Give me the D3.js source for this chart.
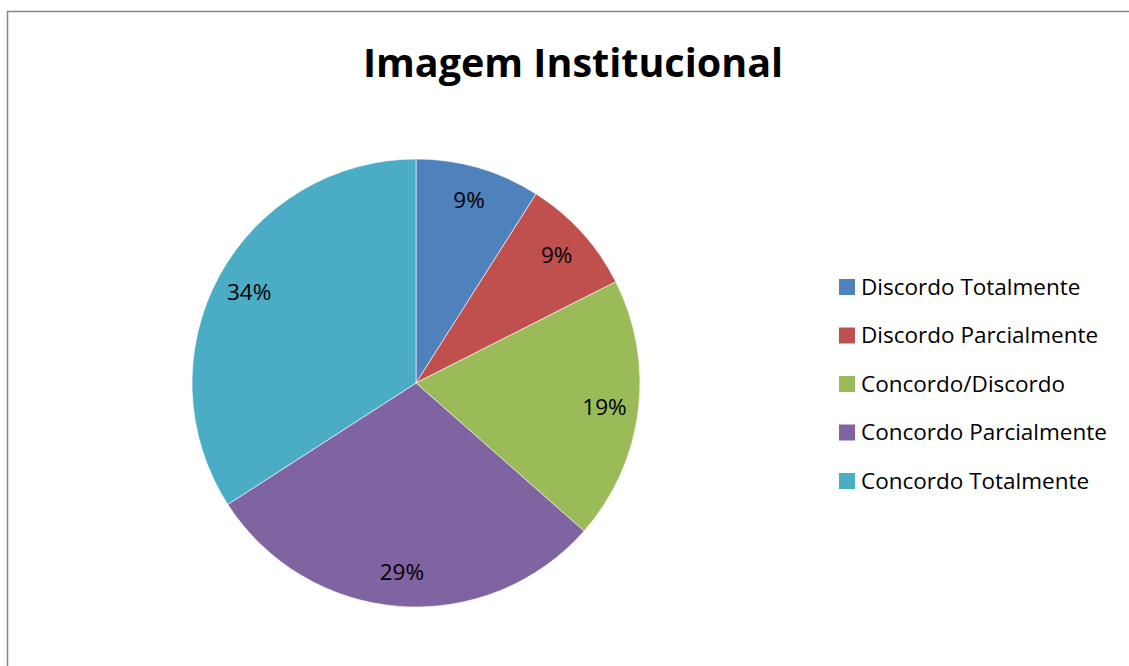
<!DOCTYPE html>
<html>
<head>
<meta charset="utf-8">
<script src="https://cdn.jsdelivr.net/npm/d3@7"></script>
<style>
  body { margin: 0; background: #fff; }
  svg { display: block; font-family: "Open Sans", sans-serif; }
</style>
</head>
<body>
<svg id="chart" width="1129" height="666"></svg>
<script>
// data
const categories = ["Discordo Totalmente", "Discordo Parcialmente", "Concordo/Discordo", "Concordo Parcialmente", "Concordo Totalmente"];
const values = [19, 18, 40, 62, 72];
const colors = ["#4f81bd", "#c0504d", "#9bbb59", "#8064a2", "#4bacc6"];
const title = "Imagem Institucional";

const svg = d3.select("#chart");

// chart area border (runs off the right and bottom of the picture)
svg.append("rect")
    .attr("x", 7.5).attr("y", 11.5)
    .attr("width", 1140).attr("height", 680)
    .attr("fill", "#fff")
    .attr("stroke", "#868686")
    .attr("stroke-width", 1.5);

svg.append("text")
    .attr("x", 573).attr("y", 77)
    .attr("text-anchor", "middle")
    .attr("font-size", 39.5)
    .attr("font-weight", "bold")
    .text(title);

const cx = 416, cy = 383, radius = 224;
const total = d3.sum(values);
const data = categories.map((c, i) => ({ name: c, value: values[i], color: colors[i] }));

const pie = d3.pie().value(d => d.value).sort(null);
const arc = d3.arc().innerRadius(0).outerRadius(radius);
const labelArc = d3.arc().innerRadius(190).outerRadius(190);

const g = svg.append("g").attr("transform", `translate(${cx},${cy})`);

const slices = g.selectAll(".slice")
    .data(pie(data))
    .enter().append("g")
    .attr("class", "slice");

slices.append("path")
    .attr("d", arc)
    .attr("fill", d => d.data.color)
    .attr("stroke", "#fff")
    .attr("stroke-width", 0.6);

slices.append("text")
    .attr("transform", d => `translate(${labelArc.centroid(d)})`)
    .attr("text-anchor", "middle")
    .attr("dy", "0.35em")
    .attr("font-size", 22.5)
    .text(d => Math.round(d.data.value / total * 100) + "%");

// legend
const legend = svg.append("g").attr("transform", "translate(839,279)");
const rows = legend.selectAll(".row")
    .data(data)
    .enter().append("g")
    .attr("class", "row")
    .attr("transform", (d, i) => `translate(0,${i * 48.5})`);

rows.append("rect")
    .attr("width", 16).attr("height", 16)
    .attr("fill", d => d.color);

rows.append("text")
    .attr("x", 22).attr("y", 8)
    .attr("dy", "0.35em")
    .attr("font-size", 22.5)
    .text(d => d.name);
</script>
</body>
</html>
